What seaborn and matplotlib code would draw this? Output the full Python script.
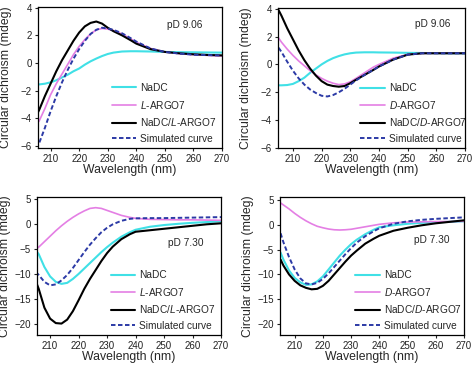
import numpy as np
import pandas as pd
import matplotlib
matplotlib.use("Agg")
import matplotlib.pyplot as plt
import seaborn as sns

# ---------------- data ----------------
wavelength = [205, 206, 208, 210, 212, 214, 216, 218, 220, 222, 224, 226, 228,
              230, 232, 235, 238, 240, 245, 250, 255, 260, 265, 270]

# pD 9.06, L
a_nadc = [-1.55, -1.55, -1.5, -1.4, -1.25, -1.05, -0.85, -0.6, -0.4, -0.12, 0.12, 0.32, 0.5,
          0.65, 0.75, 0.83, 0.85, 0.85, 0.83, 0.8, 0.78, 0.77, 0.76, 0.75]
a_argo = [-4.4, -4.2, -3.3, -2.3, -1.5, -0.8, -0.1, 0.6, 1.2, 1.7, 2.1, 2.4, 2.5,
          2.45, 2.35, 2.1, 1.75, 1.5, 1.05, 0.8, 0.68, 0.6, 0.55, 0.5]
a_mix = [-3.8, -3.4, -2.4, -1.5, -0.6, 0.2, 0.9, 1.6, 2.2, 2.65, 2.9, 3.0, 2.85,
         2.55, 2.3, 2.0, 1.65, 1.4, 1.0, 0.8, 0.7, 0.63, 0.58, 0.55]
a_sim = [-6.2, -5.8, -4.7, -3.5, -2.4, -1.4, -0.5, 0.3, 1.0, 1.6, 2.1, 2.4, 2.55,
         2.5, 2.4, 2.15, 1.8, 1.55, 1.05, 0.8, 0.68, 0.6, 0.57, 0.55]

# pD 9.06, D
b_nadc = [-1.5, -1.5, -1.48, -1.4, -1.2, -0.95, -0.6, -0.3, 0.0, 0.25, 0.45, 0.6, 0.72,
          0.8, 0.85, 0.87, 0.87, 0.86, 0.85, 0.83, 0.82, 0.81, 0.8, 0.8]
b_argo = [1.9, 1.6, 1.1, 0.65, 0.25, -0.1, -0.45, -0.75, -1.0, -1.2, -1.35, -1.45, -1.4,
          -1.25, -1.0, -0.6, -0.2, 0.0, 0.45, 0.72, 0.8, 0.8, 0.8, 0.8]
b_mix = [3.9, 3.5, 2.6, 1.8, 1.0, 0.3, -0.3, -0.8, -1.2, -1.45, -1.55, -1.6, -1.55,
         -1.35, -1.1, -0.75, -0.4, -0.15, 0.35, 0.7, 0.8, 0.8, 0.8, 0.8]
b_sim = [1.2, 0.9, 0.2, -0.45, -1.0, -1.45, -1.8, -2.05, -2.25, -2.3, -2.2, -2.0, -1.75,
         -1.45, -1.15, -0.75, -0.4, -0.15, 0.35, 0.7, 0.8, 0.8, 0.8, 0.8]

# pD 7.30, L
c_nadc = [-5.3, -6.0, -8.6, -10.5, -11.6, -12.0, -11.8, -11.0, -10.0, -8.9, -7.8, -6.7, -5.6,
          -4.6, -3.7, -2.5, -1.6, -1.1, -0.5, -0.15, 0.1, 0.3, 0.45, 0.6]
c_argo = [-5.0, -4.6, -3.5, -2.4, -1.3, -0.3, 0.6, 1.4, 2.1, 2.7, 3.2, 3.35, 3.2,
          2.8, 2.4, 1.8, 1.4, 1.2, 1.0, 0.95, 0.9, 0.9, 0.85, 0.8]
c_mix = [-11.5, -13.0, -16.8, -19.0, -19.9, -20.0, -19.2, -17.5, -15.3, -13.0, -11.0, -9.2, -7.4,
         -5.8, -4.5, -3.0, -2.0, -1.5, -1.2, -0.9, -0.6, -0.3, 0.0, 0.2]
c_sim = [-9.6, -10.2, -11.6, -12.3, -12.1, -11.3, -10.2, -8.8, -7.2, -5.6, -4.1, -2.8, -1.6,
         -0.7, 0.0, 0.7, 1.1, 1.2, 1.25, 1.25, 1.3, 1.35, 1.4, 1.45]

# pD 7.30, D
d_nadc = [-5.6, -7.0, -9.2, -10.7, -11.6, -12.1, -12.0, -11.4, -10.4, -9.0, -7.6, -6.2, -5.0,
          -3.9, -3.0, -1.9, -1.0, -0.5, -0.1, 0.2, 0.4, 0.5, 0.6, 0.7]
d_argo = [4.4, 4.0, 3.2, 2.3, 1.5, 0.8, 0.2, -0.3, -0.6, -0.85, -1.0, -1.05, -1.0,
          -0.9, -0.7, -0.4, -0.1, 0.1, 0.4, 0.55, 0.6, 0.65, 0.65, 0.7]
d_mix = [-7.0, -8.2, -10.0, -11.3, -12.2, -12.7, -13.0, -12.9, -12.3, -11.3, -10.0, -8.7, -7.4,
         -6.2, -5.2, -3.8, -2.8, -2.2, -1.2, -0.6, -0.1, 0.3, 0.6, 0.9]
d_sim = [-1.7, -3.5, -6.5, -9.0, -10.8, -11.8, -12.0, -11.7, -10.9, -9.8, -8.5, -7.2, -5.9,
         -4.7, -3.6, -2.3, -1.3, -0.7, 0.2, 0.7, 1.0, 1.2, 1.35, 1.5]

labels_L = ["NaDC", r"$\mathit{L}$-ARGO7", r"NaDC/$\mathit{L}$-ARGO7", "Simulated curve"]
labels_D = ["NaDC", r"$\mathit{D}$-ARGO7", r"NaDC/$\mathit{D}$-ARGO7", "Simulated curve"]
x_ticks = [210, 220, 230, 240, 250, 260, 270]
y_ticks_top = [-6, -4, -2, 0, 2, 4]
y_ticks_bottom = [-20, -15, -10, -5, 0, 5]
ph_labels = ["pD 9.06", "pD 9.06", "pD 7.30", "pD 7.30"]

# ---------------- style ----------------
sns.set_style("ticks")
plt.rcParams["font.family"] = ["Liberation Sans", "DejaVu Sans"]
plt.rcParams["mathtext.fontset"] = "custom"
plt.rcParams["mathtext.rm"] = "Liberation Sans"
plt.rcParams["mathtext.it"] = "Liberation Sans:italic"

colors = ["#40e0e6", "#e47fe4", "#000000", "#2c3aa6"]
widths = [1.5, 1.2, 1.5, 1.4]
styles = ["-", "-", "-", (0, (2.3, 1.3))]

fig = plt.figure(figsize=(4.74, 3.70), dpi=100)
positions = [
    [38 / 474, 1 - 148 / 370, 184 / 474, 141 / 370],
    [278 / 474, 1 - 148 / 370, 187 / 474, 140 / 370],
    [37 / 474, 1 - 335 / 370, 184 / 474, 138 / 370],
    [280 / 474, 1 - 335 / 370, 184 / 474, 138 / 370],
]
panels = [
    (a_nadc, a_argo, a_mix, a_sim, labels_L, (-6.15, 4.05), y_ticks_top, 205.6, (0.40, 0.03), (0.70, 0.875)),
    (b_nadc, b_argo, b_mix, b_sim, labels_D, (-6.0, 4.05), y_ticks_top, 204.8, (0.44, 0.03), (0.73, 0.885)),
    (c_nadc, c_argo, c_mix, c_sim, labels_L, (-22.3, 5.5), y_ticks_bottom, 205.4, (0.40, 0.03), (0.71, 0.67)),
    (d_nadc, d_argo, d_mix, d_sim, labels_D, (-22.2, 5.6), y_ticks_bottom, 204.8, (0.41, 0.03), (0.73, 0.69)),
]

for pos, (s1, s2, s3, s4, labs, ylim, yt, xmin, leg_anchor, txt_pos), ptxt in zip(positions, panels, ph_labels):
    ax = fig.add_axes(pos)
    df = pd.DataFrame({"wl": wavelength * 4,
                       "cd": list(s1) + list(s2) + list(s3) + list(s4),
                       "series": sum([[l] * len(wavelength) for l in labs], [])})
    for lab, c, lw, ls in zip(labs, colors, widths, styles):
        sub = df[df["series"] == lab]
        sns.lineplot(data=sub, x="wl", y="cd", ax=ax, color=c, linewidth=lw,
                     linestyle=ls, label=lab, estimator=None, sort=True)
    ax.set_xlim(xmin, 270)
    ax.set_ylim(*ylim)
    ax.set_xticks(x_ticks)
    ax.set_yticks(yt)
    ax.tick_params(axis="both", labelsize=7, length=2.5, width=0.8, pad=2, colors="#222222")
    for sp in ax.spines.values():
        sp.set_linewidth(0.9)
        sp.set_color("black")
    ax.set_xlabel("Wavelength (nm)", fontsize=8.8)
    ax.set_ylabel("Circular dichroism (mdeg)", fontsize=8.8)
    ax.xaxis.set_label_coords(0.5, -0.115)
    ax.yaxis.set_label_coords(-0.14, 0.5)
    ax.text(txt_pos[0], txt_pos[1], ptxt, transform=ax.transAxes, fontsize=7.3,
            ha="left", va="center")
    leg = ax.legend(loc="lower left", bbox_to_anchor=leg_anchor, frameon=False,
                    fontsize=7.3, handlelength=2.4, handletextpad=0.45,
                    labelspacing=0.55, borderpad=0, borderaxespad=0)

fig.savefig("out.png", dpi=100)
